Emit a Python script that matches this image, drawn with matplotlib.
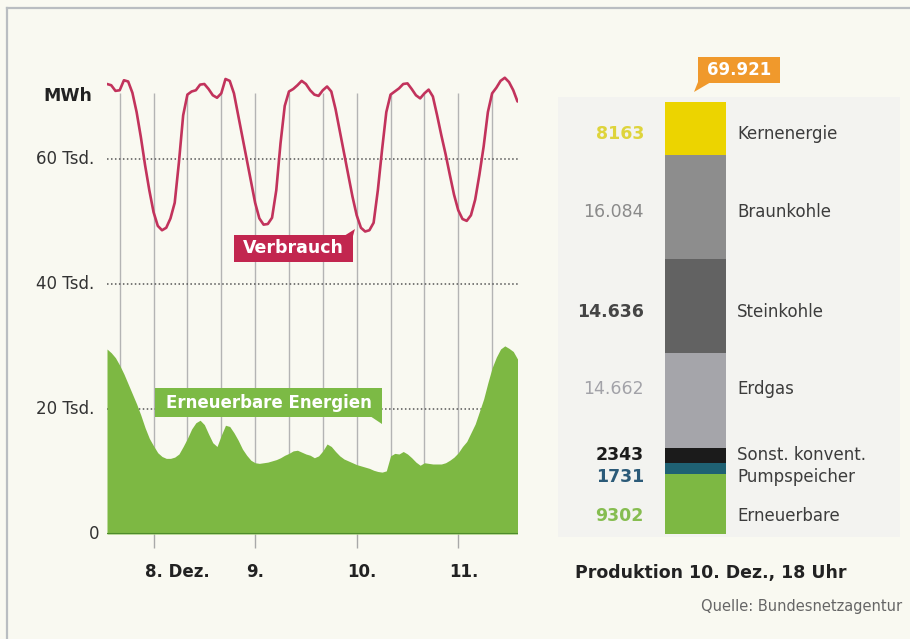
import matplotlib
matplotlib.use("Agg")
import matplotlib.pyplot as plt
from matplotlib.patches import Rectangle, Polygon
from matplotlib.lines import Line2D

# ---------------------------------------------------------------- data
# hours relative to 8 Dec 00:00 (7 Dec 13:00 ... 11 Dec 14:00)
hours = list(range(-11, 87))

# electricity consumption, thousand MWh per hour
verbrauch = [
    72.0, 71.8, 70.9, 71.0, 72.6, 72.4, 70.6, 67.5, 63.5, 59.0, 55.0,
    51.5, 49.3, 48.6, 49.0, 50.5, 53.0, 59.5, 67.0, 70.3, 70.8, 71.0,
    71.9, 72.0, 71.2, 70.2, 69.8, 70.5, 72.8, 72.5, 70.5, 67.0, 63.5,
    60.0, 56.5, 53.0, 50.5, 49.5, 49.6, 50.6, 55.0, 62.5, 68.5, 70.8,
    71.2, 71.8, 72.5, 72.0, 71.0, 70.3, 70.1, 71.0, 71.6, 70.8, 68.0,
    64.5, 61.0, 57.5, 54.0, 51.0, 49.0, 48.4, 48.6, 49.8, 55.0, 61.5,
    67.5, 70.3, 70.8, 71.3, 72.0, 72.1, 71.2, 70.2, 69.7, 70.5, 71.1,
    70.0, 67.0, 63.8, 60.8, 57.5, 54.3, 51.8, 50.4, 50.1, 51.0, 53.5,
    57.5, 62.0, 67.5, 70.5, 71.4, 72.5, 73.0, 72.3, 71.0, 69.2,
]

# renewable generation, thousand MWh per hour
erneuerbare = [
    29.6, 29.0, 28.2, 27.0, 25.6, 24.0, 22.4, 20.8, 19.0, 17.0, 15.3,
    14.1, 13.0, 12.4, 12.1, 12.1, 12.3, 12.8, 14.0, 15.3, 16.8, 17.8,
    18.2, 17.5, 16.0, 14.6, 14.0, 15.8, 17.4, 17.2, 16.2, 15.0, 13.6,
    12.6, 11.8, 11.4, 11.3, 11.4, 11.5, 11.7, 11.9, 12.2, 12.6, 12.9,
    13.3, 13.4, 13.1, 12.8, 12.6, 12.2, 12.5, 13.3, 14.4, 14.0, 13.2,
    12.5, 12.0, 11.7, 11.4, 11.1, 10.9, 10.7, 10.5, 10.2, 10.0, 9.9,
    10.1, 12.5, 12.9, 12.8, 13.2, 12.8, 12.2, 11.5, 11.0, 11.4, 11.3,
    11.2, 11.2, 11.2, 11.4, 11.8, 12.3, 13.0, 14.0, 14.8, 16.2, 17.6,
    19.6, 21.6, 24.2, 26.6, 28.3, 29.6, 30.1, 29.7, 29.2, 28.0,
]

day_hours = [0, 24, 48, 72]
day_labels = ["8. Dez.", "9.", "10.", "11."]
grid_hours = list(range(-8, 81, 8))

y_ticks = [0, 20, 40, 60]
y_tick_labels = ["0", "20 Tsd.", "40 Tsd.", "60 Tsd."]

# production mix on 10 Dec, 18:00 (MWh), listed top to bottom
sources = ["Kernenergie", "Braunkohle", "Steinkohle", "Erdgas",
           "Sonst. konvent.", "Pumpspeicher", "Erneuerbare"]
production = [8163, 16084, 14636, 14662, 2343, 1731, 9302]
total_label = "69.921"

# ---------------------------------------------------------------- style
W, H = 910, 639
BG = "#f9f9f1"
PANEL = "#f3f3f0"
RED = "#c2335c"
GREEN = "#7db843"
seg_colors = ["#ecd400", "#8d8d8d", "#626262", "#a5a5aa",
              "#1b1b1b", "#1f6173", "#7db843"]
val_colors = ["#ded43c", "#8a8a8a", "#454545", "#a2a2a8",
              "#1b1b1b", "#2b5a78", "#86bd50"]
val_weights = ["bold", "normal", "bold", "normal", "bold", "bold", "bold"]
label_nudge_px = [6, 5, 6, -11, 0, 9, 12]

plt.rcParams["font.family"] = ["DejaVu Sans"]
PT = 100 / 72.0  # pixels per point


def fx(x):
    return x / W


def fy(y):
    return 1 - y / H


fig = plt.figure(figsize=(W / 100, H / 100), dpi=100, facecolor=BG)

# frame lines
fig.add_artist(Line2D([fx(7), fx(7)], [fy(8), 0], transform=fig.transFigure,
                      color="#b9bdc1", lw=1.6))
fig.add_artist(Line2D([fx(7), 1], [fy(8), fy(8)], transform=fig.transFigure,
                      color="#b9bdc1", lw=1.6))

# ---------------------------------------------------------------- time series
ax = fig.add_axes([fx(107), fy(534), (517.5 - 107) / W, 75 * 6.25 / H])
ax.set_facecolor("none")
ax.set_xlim(-11, 86)
ax.set_ylim(0, 75)
for s in ax.spines.values():
    s.set_visible(False)
ax.set_yticks([])
ax.set_xticks(day_hours)
ax.tick_params(axis="x", length=10, width=1, color="#a9a9a9", labelbottom=False)

ax.vlines(grid_hours, 0, 70.5, color="#b4b4b4", lw=1, zorder=1)
for v in y_ticks[1:]:
    ax.axhline(v, color="#555555", lw=1.1, ls=(0, (1, 1.6)), zorder=1)

ax.fill_between(hours, erneuerbare, 0, color=GREEN, lw=0, zorder=2)
ax.axhline(0, color="#4d8c2b", lw=2.2, zorder=3)
ax.plot(hours, verbrauch, color=RED, lw=1.9, zorder=5,
        solid_joinstyle="round", solid_capstyle="round")

for v, lab in zip(y_ticks, y_tick_labels):
    off = 8 if lab == "0" else 13
    ax.annotate(lab, xy=(0, v), xycoords=ax.get_yaxis_transform(),
                xytext=(-off / PT, 0), textcoords="offset points",
                ha="right", va="center", fontsize=12, color="#333333")
ax.annotate("MWh", xy=(0, 70.1), xycoords=ax.get_yaxis_transform(),
            xytext=(-15 / PT, 0), textcoords="offset points",
            ha="right", va="center", fontsize=12.5, fontweight="bold",
            color="#222222")

for h, lab in zip(day_hours, day_labels):
    ax.annotate(lab, xy=(h, 0), xycoords=ax.get_xaxis_transform(),
                xytext=(-9 / PT, -38 / PT), textcoords="offset points",
                ha="left", va="center", fontsize=12, fontweight="bold",
                color="#222222")


def box(x0, y0, x1, y1, color, tail, text, size):
    fig.add_artist(Rectangle((fx(x0), fy(y1)), (x1 - x0) / W, (y1 - y0) / H,
                             transform=fig.transFigure, color=color, lw=0,
                             zorder=6))
    fig.add_artist(Polygon([(fx(a), fy(b)) for a, b in tail], closed=True,
                           transform=fig.transFigure, color=color, lw=0,
                           zorder=6))
    fig.text(fx((x0 + x1) / 2), fy((y0 + y1) / 2), text, ha="center",
             va="center", color="white", fontsize=size, fontweight="bold",
             zorder=7)


box(234, 235, 353, 262, "#c2264f", [(344, 236), (353, 236), (355, 229)],
    "Verbrauch", 12.5)
box(155, 388, 382, 417, "#7cba45", [(370, 416), (382, 416), (382, 424)],
    "Erneuerbare Energien", 12)

# ---------------------------------------------------------------- production bar
fig.add_artist(Rectangle((fx(558), fy(537)), (900 - 558) / W, (537 - 97) / H,
                         transform=fig.transFigure, color=PANEL, lw=0,
                         zorder=0))

bar_total = sum(production)
bx = fig.add_axes([fx(558), fy(534), (900 - 558) / W, (534 - 97) / H])
bx.set_facecolor("none")
bx.set_xlim(558, 900)
bx.set_ylim(0, bar_total * (534 - 97) / (534 - 102))
bx.axis("off")

bottom = bar_total
for name, val, c, vc, vw, nudge in zip(sources, production, seg_colors,
                                       val_colors, val_weights, label_nudge_px):
    bottom -= val
    bx.bar(695.5, val, width=61, bottom=bottom, color=c, lw=0)
    mid = bottom + val / 2
    txt = f"{val:,}".replace(",", ".") if val >= 10000 else str(val)
    bx.annotate(txt, xy=(644, mid), xytext=(0, -nudge / PT),
                textcoords="offset points", ha="right", va="center",
                fontsize=12.5, fontweight=vw, color=vc)
    bx.annotate(name, xy=(737, mid), xytext=(0, -nudge / PT),
                textcoords="offset points", ha="left", va="center",
                fontsize=12, color="#3c3c3c")

box(698, 57, 780, 83, "#f0992c", [(698, 82), (711, 82), (694, 92)],
    total_label, 12)

fig.text(fx(575), fy(573), "Produktion 10. Dez., 18 Uhr", ha="left",
         va="center", fontsize=12.5, fontweight="bold", color="#222222")
fig.text(fx(902), fy(606), "Quelle: Bundesnetzagentur", ha="right",
         va="center", fontsize=10.5, color="#666666")

fig.savefig("out.png", dpi=100, facecolor=BG)
